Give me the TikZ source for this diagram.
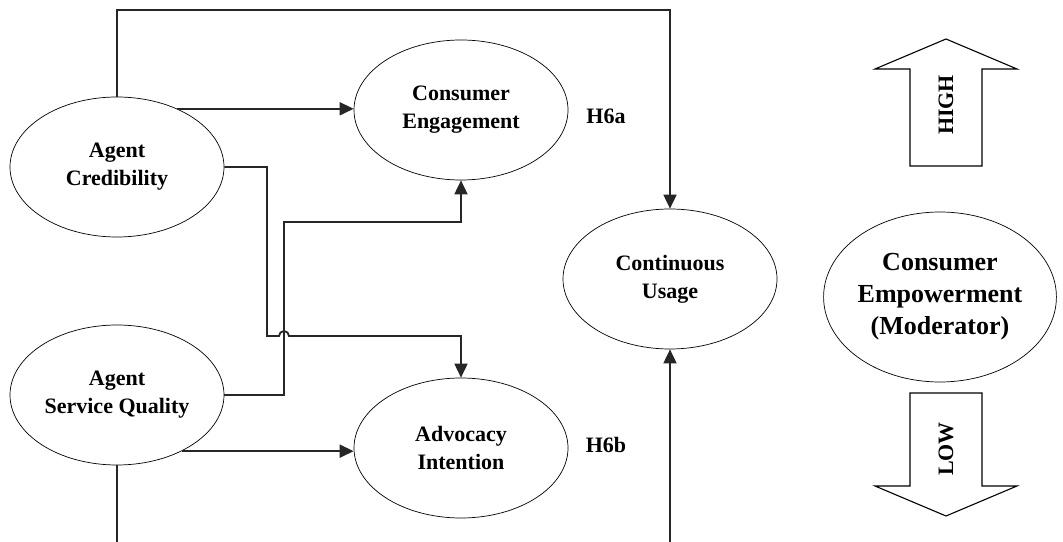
\documentclass[tikz,border=0pt]{standalone}
\usepackage{fontspec}
\setmainfont{Liberation Serif}
\usetikzlibrary{shapes.geometric, arrows.meta}
\begin{document}
\begin{tikzpicture}[x=1pt,y=1pt,
  ell/.style={draw, ellipse, line width=0.7pt, minimum width=214pt, minimum height=140pt, align=center, inner sep=0pt, font=\fontsize{22}{28}\selectfont\bfseries},
  conn/.style={line width=1.8pt, draw=black!85},
  arr/.style={conn, -{Triangle[length=14pt,width=13pt]}},
  lbl/.style={font=\fontsize{22}{28}\selectfont\bfseries},
  bigarrow/.style={draw, line width=1.1pt, fill=white}
]
\clip (0,0) rectangle (1063,541);
\fill[white] (0,0) rectangle (1063,541);

\node[ell] (AC) at (117,374) {Agent\\Credibility};
\node[ell] (ASQ) at (117,146) {Agent\\Service Quality};
\node[ell] (CE) at (461,431) {Consumer\\Engagement};
\node[ell] (AI) at (461,93) {Advocacy\\Intention};
\node[ell] (CU) at (670,262) {Continuous\\Usage};
\node[ell, minimum width=230pt, minimum height=170pt, font=\fontsize{26}{32}\selectfont\bfseries] (CEmp) at (940,244) {Consumer\\Empowerment\\(Moderator)};

\node[lbl] (h6a) at (606,425) {H6a};
\node[lbl] (h6b) at (606,96) {H6b};

\coordinate (t1) at (400,531);
\coordinate (j1) at (267,205);
\coordinate (v2) at (284,319);
\coordinate (bt) at (400,-20);

\draw[arr] (AC.north) |- (t1) -| (CU.north);
\draw[arr] (AC.44) -- (AC.44 -| CE.west);
\draw[arr] (AC.east) -| (j1) -- ([xshift=-5pt]j1 -| v2) arc[start angle=180, end angle=0, radius=5pt] -| (AI.north);
\draw[arr] (ASQ.east) -| (v2) -| (CE.south);
\draw[arr] (ASQ.-41) -- (ASQ.-41 -| AI.west);
\draw[arr] (ASQ.south) |- (bt) -| (CU.south);

\draw[bigarrow] (910,375) -- (910,472) -- (875,472) -- (946,502) -- (1017,472) -- (982,472) -- (982,375) -- cycle;
\node[lbl, rotate=90] (high) at (946,436) {HIGH};
\draw[bigarrow] (910,148) -- (910,55) -- (875,55) -- (946,25) -- (1017,55) -- (982,55) -- (982,148) -- cycle;
\node[lbl, rotate=90] (low) at (946,92) {LOW};
\end{tikzpicture}
\end{document}
